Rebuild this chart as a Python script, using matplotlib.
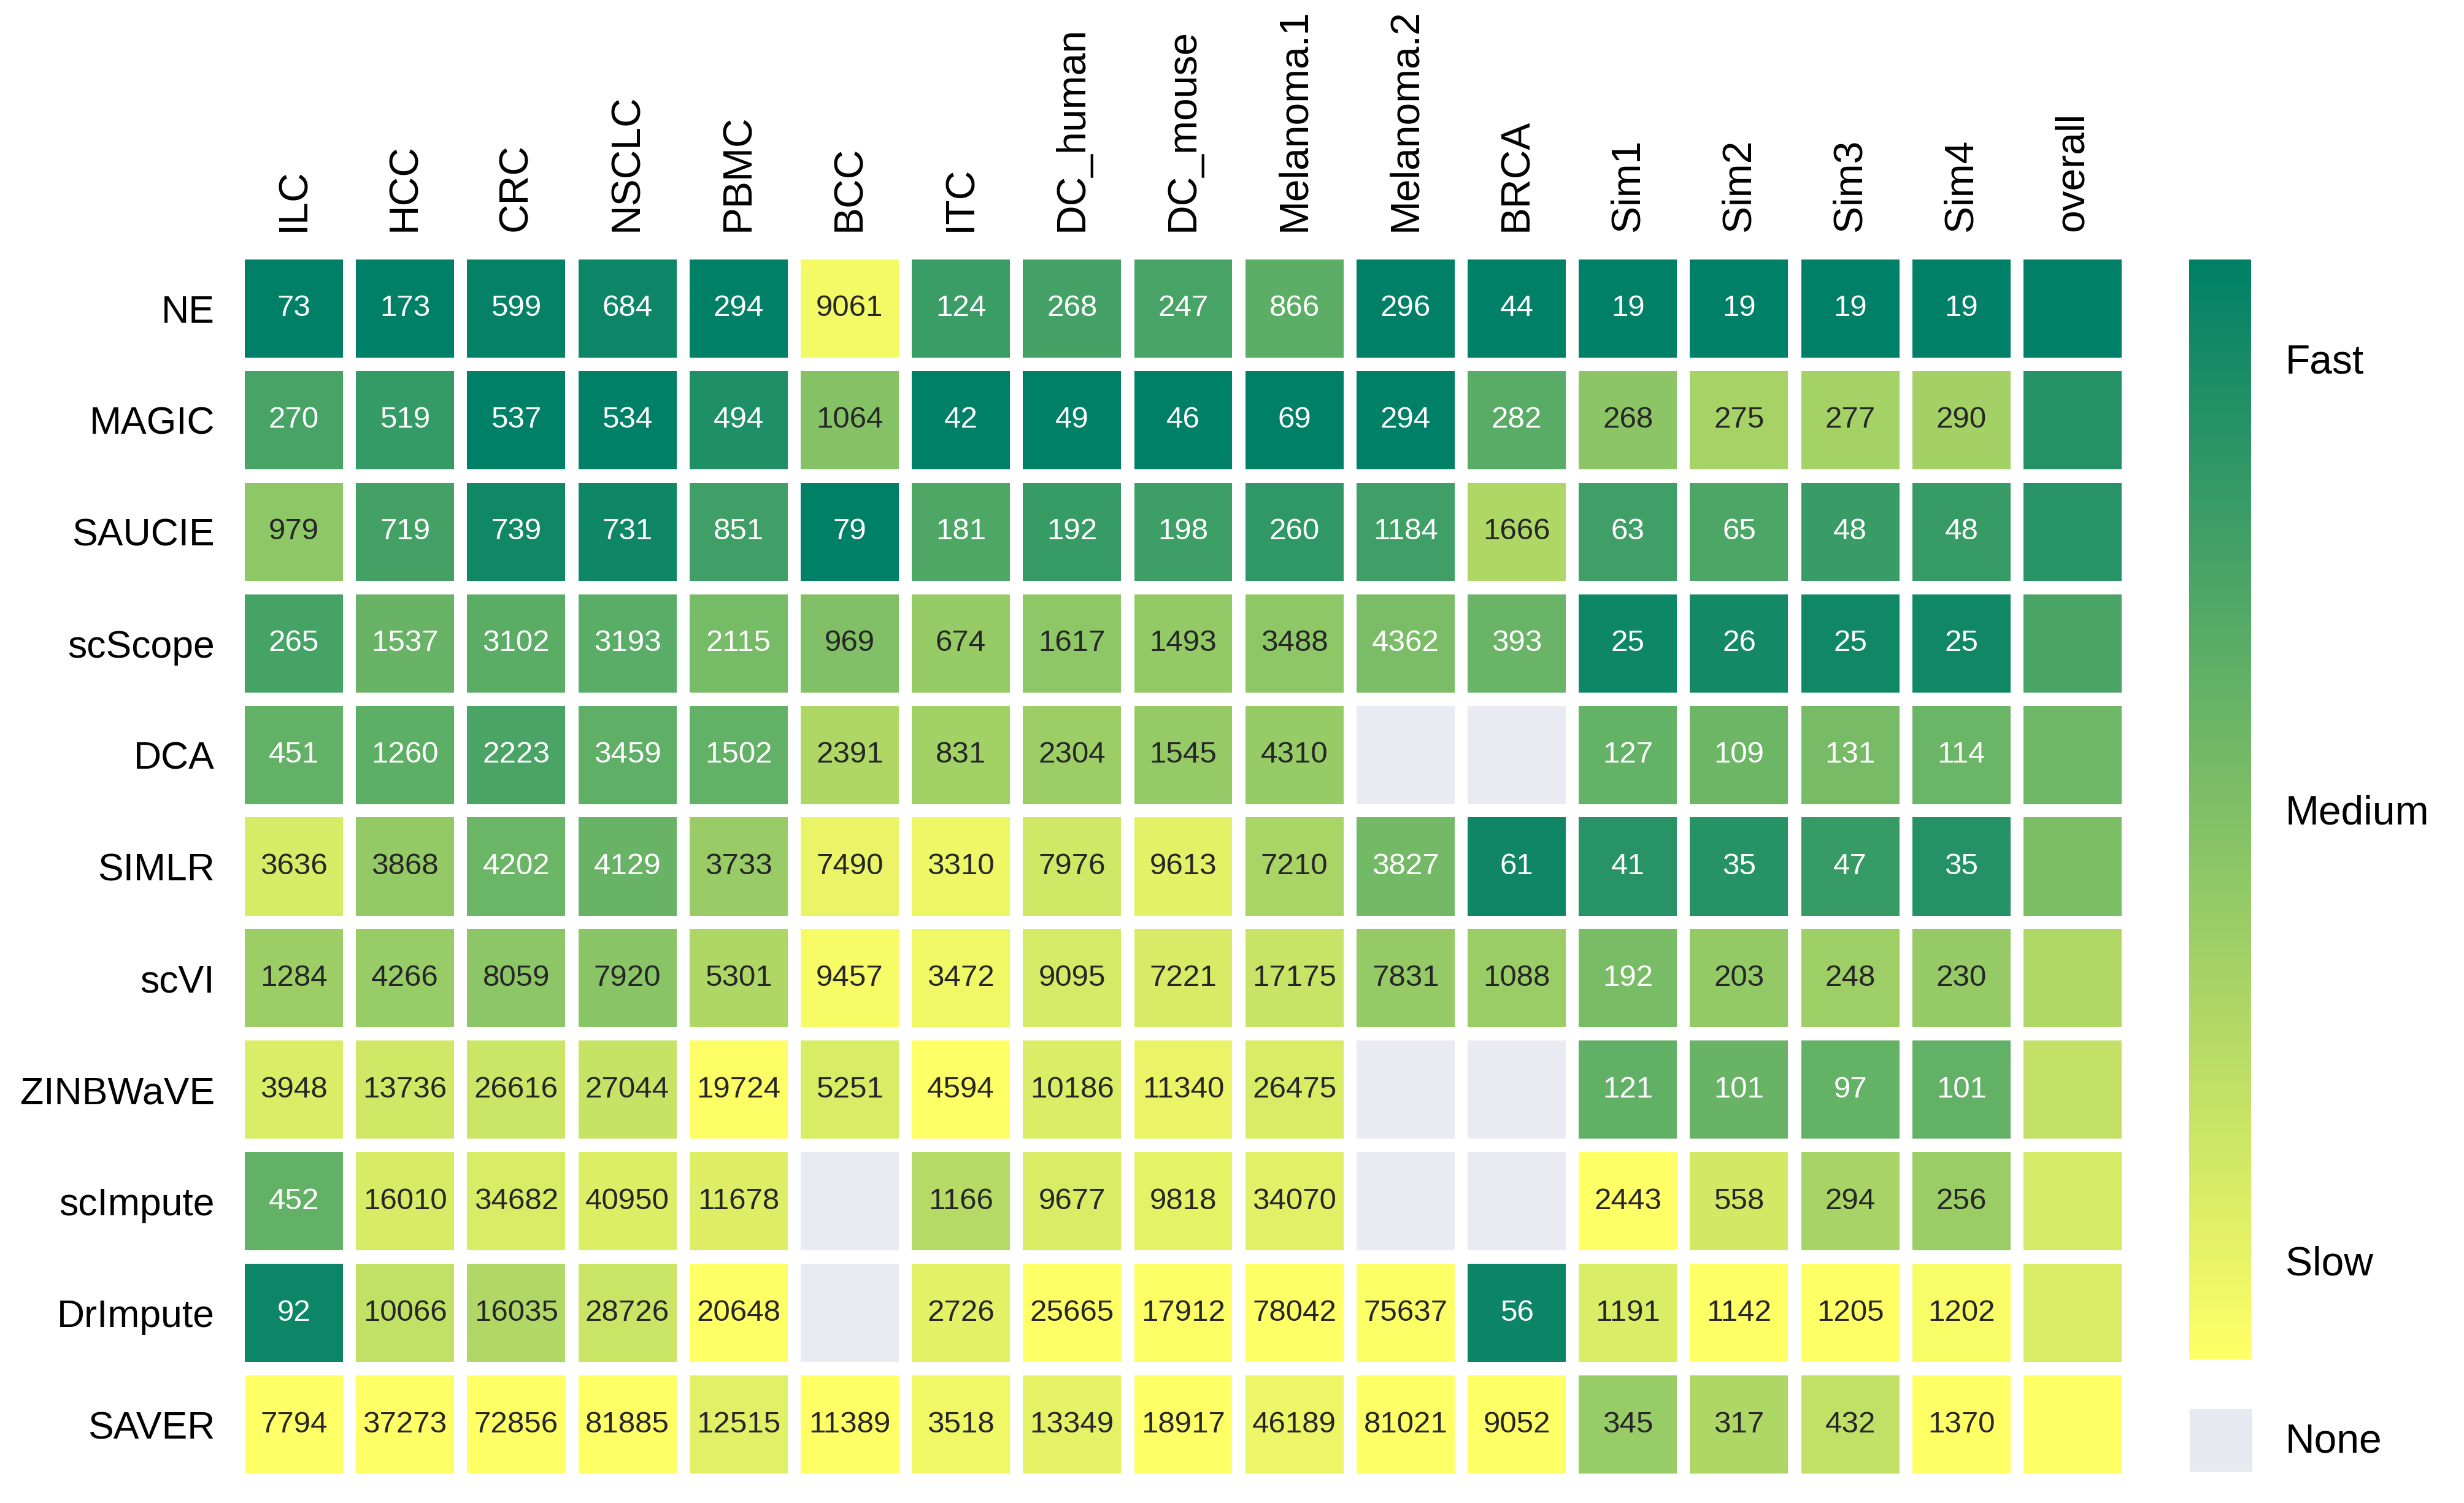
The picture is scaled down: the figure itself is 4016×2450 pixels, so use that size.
import numpy as np
import matplotlib
matplotlib.use("Agg")
import matplotlib.pyplot as plt
from matplotlib.patches import Rectangle
from matplotlib.colors import Normalize
from matplotlib.cm import ScalarMappable

plt.rcParams['font.family'] = ['Liberation Sans', 'DejaVu Sans']

nan = np.nan

methods = ["NE", "MAGIC", "SAUCIE", "scScope", "DCA", "SIMLR", "scVI",
           "ZINBWaVE", "scImpute", "DrImpute", "SAVER"]
datasets = ["ILC", "HCC", "CRC", "NSCLC", "PBMC", "BCC", "ITC", "DC_human",
            "DC_mouse", "Melanoma.1", "Melanoma.2", "BRCA",
            "Sim1", "Sim2", "Sim3", "Sim4"]

# running time per dataset (nan = not available)
ne       = [73, 173, 599, 684, 294, 9061, 124, 268, 247, 866, 296, 44, 19, 19, 19, 19]
magic    = [270, 519, 537, 534, 494, 1064, 42, 49, 46, 69, 294, 282, 268, 275, 277, 290]
saucie   = [979, 719, 739, 731, 851, 79, 181, 192, 198, 260, 1184, 1666, 63, 65, 48, 48]
scscope  = [265, 1537, 3102, 3193, 2115, 969, 674, 1617, 1493, 3488, 4362, 393, 25, 26, 25, 25]
dca      = [451, 1260, 2223, 3459, 1502, 2391, 831, 2304, 1545, 4310, nan, nan, 127, 109, 131, 114]
simlr    = [3636, 3868, 4202, 4129, 3733, 7490, 3310, 7976, 9613, 7210, 3827, 61, 41, 35, 47, 35]
scvi     = [1284, 4266, 8059, 7920, 5301, 9457, 3472, 9095, 7221, 17175, 7831, 1088, 192, 203, 248, 230]
zinbwave = [3948, 13736, 26616, 27044, 19724, 5251, 4594, 10186, 11340, 26475, nan, nan, 121, 101, 97, 101]
scimpute = [452, 16010, 34682, 40950, 11678, nan, 1166, 9677, 9818, 34070, nan, nan, 2443, 558, 294, 256]
drimpute = [92, 10066, 16035, 28726, 20648, nan, 2726, 25665, 17912, 78042, 75637, 56, 1191, 1142, 1205, 1202]
saver    = [7794, 37273, 72856, 81885, 12515, 11389, 3518, 13349, 18917, 46189, 81021, 9052, 345, 317, 432, 1370]

runtime = np.array([ne, magic, saucie, scscope, dca, simlr, scvi,
                    zinbwave, scimpute, drimpute, saver], dtype=float)

# colour score: log time scaled within each dataset (0 = fastest, 1 = slowest)
logt = np.log10(runtime)
lo = np.nanmin(logt, axis=0)
hi = np.nanmax(logt, axis=0)
score = (logt - lo) / (hi - lo)
overall = np.nanmean(score, axis=1)
overall = (overall - overall.min()) / (overall.max() - overall.min())

cmap = plt.get_cmap("summer")
none_color = "#eaeaf2"
labels = datasets + ["overall"]

W, H = 4016, 2450
fig = plt.figure(figsize=(W / 250, H / 250), dpi=250)
ax = fig.add_axes([388.4 / W, 1 - 2413 / H, (3468.6 - 388.4) / W, (2413 - 412) / H])
ax.set_xlim(-0.5, len(labels) - 0.5)
ax.set_ylim(len(methods) - 0.5, -0.5)

cw, ch = 0.883, 0.88
for i, m in enumerate(methods):
    for j in range(len(labels)):
        if j < len(datasets):
            s = score[i, j]
            val = runtime[i, j]
        else:
            s = overall[i]
            val = nan
        fc = none_color if np.isnan(s) else cmap(s)
        ax.add_patch(Rectangle((j - cw / 2, i - ch / 2), cw, ch, facecolor=fc, edgecolor="none"))
        if not np.isnan(val):
            tc = "white" if s < 0.5 else "#262626"
            ax.text(j, i, f"{int(val)}", ha="center", va="center", fontsize=14.2, color=tc)

ax.set_xticks(range(len(labels)))
ax.set_xticklabels(labels, rotation=90, fontsize=19)
ax.set_yticks(range(len(methods)))
ax.set_yticklabels(methods, fontsize=18)
ax.tick_params(top=True, labeltop=True, bottom=False, labelbottom=False, length=0)
ax.tick_params(axis="x", pad=10)
ax.tick_params(axis="y", pad=11)
for sp in ax.spines.values():
    sp.set_visible(False)

# colour bar
cax = fig.add_axes([3568 / W, 1 - 2216 / H, 101 / W, (2216 - 423) / H])
cb = fig.colorbar(ScalarMappable(norm=Normalize(0, 1), cmap=cmap), cax=cax)
cax.invert_yaxis()
cb.set_ticks([0.09, 0.5, 0.91])
cb.set_ticklabels(["Fast", "Medium", "Slow"])
cb.outline.set_visible(False)
cax.tick_params(length=0, pad=16, labelsize=19)

# "None" key
nax = fig.add_axes([3569 / W, 1 - 2399 / H, 102 / W, 102 / H])
nax.set_facecolor("#e8e8f0")
nax.set_xticks([])
nax.set_yticks([])
for sp in nax.spines.values():
    sp.set_visible(False)
fig.text(3725 / W, 1 - 2350 / H, "None", fontsize=19, va="center", ha="left")

fig.savefig("out.png", dpi=250, facecolor="white")
